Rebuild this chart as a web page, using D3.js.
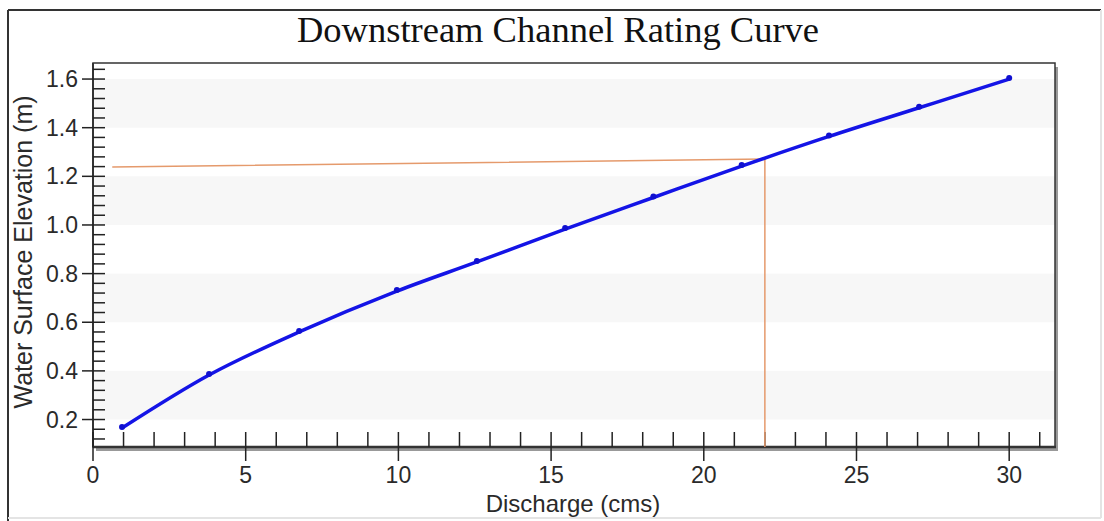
<html>
<head>
<script src="https://d3js.org/d3.v7.min.js"></script>
<style>
  body { margin: 0; background: #fff; }
</style>
</head>
<body>
<script>
  var width = 1104
  var height = 521

  // values
  var discharge = [0.95, 3.8, 6.75, 9.95, 12.57, 15.46, 18.35, 21.24, 24.1, 27.05, 30]
  var elevation = [0.165, 0.383, 0.56, 0.728, 0.848, 0.983, 1.113, 1.242, 1.364, 1.482, 1.6]
  var xTicks = [0, 5, 10, 15, 20, 25, 30]
  var yTicks = [0.2, 0.4, 0.6, 0.8, 1.0, 1.2, 1.4, 1.6]
  var lookupX = [0.63, 22, 22]
  var lookupY = [1.238, 1.271, 0.087]

  var pLeft = 93, pRight = 1055, pTop = 63, pBottom = 447
  var x = d3.scaleLinear().domain([0, 31.5]).range([pLeft, pRight])
  var y = d3.scaleLinear().domain([0.087, 1.666]).range([pBottom, pTop])
  var sans = '"Liberation Sans", Arial, sans-serif'

  var svg = d3.select('body').append('svg').attr('width', width).attr('height', height)

  // outer frame
  svg.append('line').attr('x1', 8).attr('y1', 10).attr('x2', 8).attr('y2', 521).attr('stroke', '#333').attr('stroke-width', 2)
  svg.append('line').attr('x1', 8).attr('y1', 10).attr('x2', 1101).attr('y2', 10).attr('stroke', '#333').attr('stroke-width', 2)
  svg.append('line').attr('x1', 1101).attr('y1', 10).attr('x2', 1101).attr('y2', 518).attr('stroke', '#e4e4e4').attr('stroke-width', 2)
  svg.append('line').attr('x1', 8).attr('y1', 518).attr('x2', 1101).attr('y2', 518).attr('stroke', '#e4e4e4').attr('stroke-width', 2)

  // title
  svg.append('text').attr('x', 558).attr('y', 42).attr('text-anchor', 'middle')
    .style('font-family', '"Liberation Serif", "Times New Roman", serif').style('font-size', '36.5px')
    .attr('fill', '#111').text('Downstream Channel Rating Curve')

  // plot shadow and background
  svg.append('rect').attr('x', pLeft + 3).attr('y', pTop + 4).attr('width', pRight - pLeft).attr('height', pBottom - pTop)
    .attr('fill', '#999')
  svg.append('rect').attr('x', pLeft).attr('y', pTop).attr('width', pRight - pLeft).attr('height', pBottom - pTop)
    .attr('fill', '#fff')

  // alternating bands
  var bands = yTicks.filter(function(d, i){ return i % 2 == 0 })
  svg.selectAll('rect.band').data(bands).enter().append('rect').attr('class', 'band')
    .attr('x', pLeft).attr('width', pRight - pLeft)
    .attr('y', function(d){ return y(d + 0.2) }).attr('height', function(d){ return y(d) - y(d + 0.2) })
    .attr('fill', '#f7f7f7')

  svg.append('rect').attr('x', pLeft).attr('y', pTop).attr('width', pRight - pLeft).attr('height', pBottom - pTop)
    .attr('fill', 'none').attr('stroke', '#333').attr('stroke-width', 1.5)
  svg.append('line').attr('x1', pLeft).attr('x2', pRight + 1).attr('y1', pBottom).attr('y2', pBottom)
    .attr('stroke', '#333').attr('stroke-width', 2.5)
  svg.append('line').attr('x1', pLeft).attr('x2', pLeft).attr('y1', pTop).attr('y2', pBottom)
    .attr('stroke', '#333').attr('stroke-width', 2)

  // x ticks
  var xMinor = d3.range(1, 32).filter(function(d){ return d % 5 != 0 })
  svg.selectAll('line.xminor').data(xMinor).enter().append('line')
    .attr('x1', function(d){ return x(d) }).attr('x2', function(d){ return x(d) })
    .attr('y1', pBottom - 15).attr('y2', pBottom).attr('stroke', '#222').attr('stroke-width', 1.5)
  svg.selectAll('line.xmajor').data(xTicks).enter().append('line')
    .attr('x1', function(d){ return x(d) }).attr('x2', function(d){ return x(d) })
    .attr('y1', pBottom - 15).attr('y2', pBottom + 14).attr('stroke', '#222').attr('stroke-width', 1.5)
  svg.selectAll('text.xlab').data(xTicks).enter().append('text')
    .attr('x', function(d){ return x(d) }).attr('y', pBottom + 36).attr('text-anchor', 'middle')
    .style('font-family', sans).style('font-size', '23px').attr('fill', '#2a2a2a')
    .text(function(d){ return d })

  // y ticks
  var yMinor = d3.range(3, 42).map(function(d){ return d * 0.04 }).filter(function(d){ return Math.abs(d * 5 - Math.round(d * 5)) > 0.01 })
  svg.selectAll('line.yminor').data(yMinor).enter().append('line')
    .attr('y1', function(d){ return y(d) }).attr('y2', function(d){ return y(d) })
    .attr('x1', pLeft).attr('x2', pLeft + 12).attr('stroke', '#222').attr('stroke-width', 1.5)
  svg.selectAll('line.ymajor').data(yTicks).enter().append('line')
    .attr('y1', function(d){ return y(d) }).attr('y2', function(d){ return y(d) })
    .attr('x1', pLeft - 11).attr('x2', pLeft + 12).attr('stroke', '#222').attr('stroke-width', 1.5)
  svg.selectAll('text.ylab').data(yTicks).enter().append('text')
    .attr('x', pLeft - 15).attr('y', function(d){ return y(d) + 8 }).attr('text-anchor', 'end')
    .style('font-family', sans).style('font-size', '23px').attr('fill', '#2a2a2a')
    .text(function(d){ return d.toFixed(1) })

  // axis titles
  svg.append('text').attr('x', 573).attr('y', 512).attr('text-anchor', 'middle')
    .style('font-family', sans).style('font-size', '24px').attr('fill', '#2a2a2a')
    .text('Discharge (cms)')
  svg.append('text').attr('transform', 'translate(32,252) rotate(-90)').attr('text-anchor', 'middle')
    .style('font-family', sans).style('font-size', '25px').attr('fill', '#2a2a2a')
    .text('Water Surface Elevation (m)')

  // lookup line
  var lookup = lookupX.map(function(d, i){ return [d, lookupY[i]] })
  svg.append('path').datum(lookup)
    .attr('d', d3.line().x(function(d){ return x(d[0]) }).y(function(d){ return y(d[1]) }))
    .attr('fill', 'none').attr('stroke', '#e59a6c').attr('stroke-width', 1.5)

  // rating curve
  var pts = discharge.map(function(d, i){ return [d, elevation[i]] })
  svg.append('path').datum(pts)
    .attr('d', d3.line().curve(d3.curveMonotoneX).x(function(d){ return x(d[0]) }).y(function(d){ return y(d[1]) }))
    .attr('fill', 'none').attr('stroke', '#1414e6').attr('stroke-width', 3.5)
  svg.selectAll('circle.pt').data(pts).enter().append('circle')
    .attr('cx', function(d){ return x(d[0]) }).attr('cy', function(d){ return y(d[1]) - 1 })
    .attr('r', 3).attr('fill', '#1010d0')
</script>
</body>
</html>
